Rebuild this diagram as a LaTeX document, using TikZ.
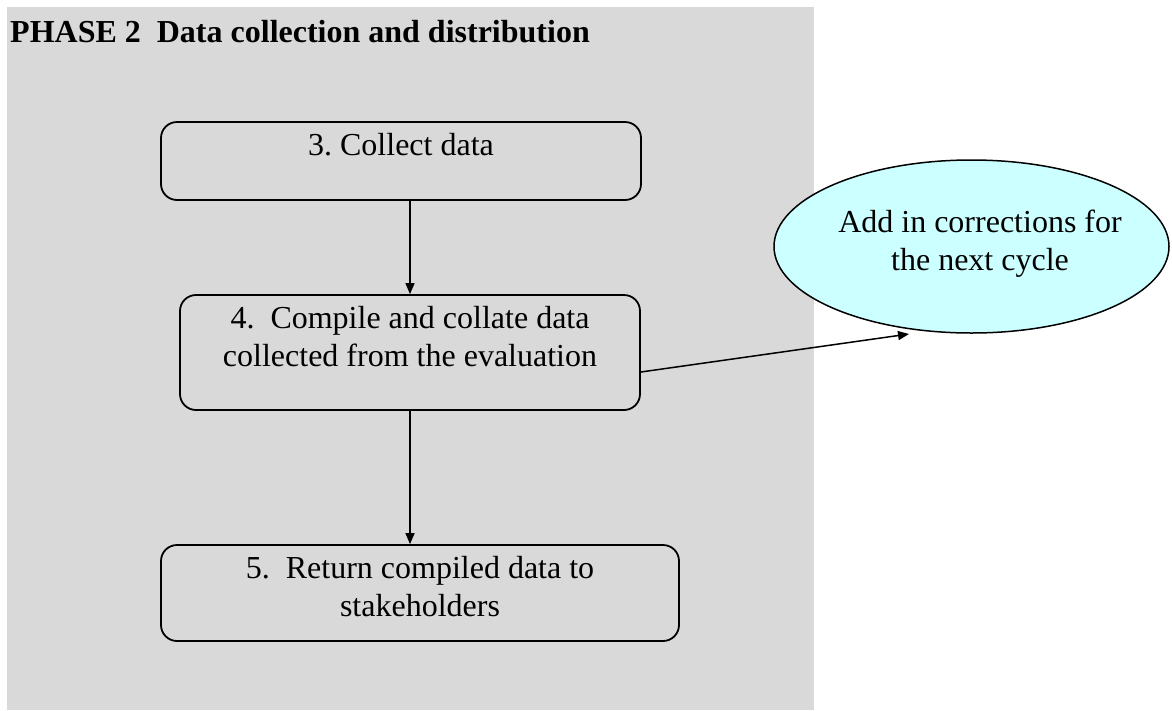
\documentclass[tikz,border=0pt]{standalone}
\usepackage{fontspec}
\setmainfont{Liberation Serif}
\usetikzlibrary{arrows.meta,shapes.geometric}
\definecolor{panelgray}{HTML}{D9D9D9}
\definecolor{notecyan}{HTML}{CCFFFF}
\frenchspacing
\begin{document}
\begin{tikzpicture}[x=1pt,y=-1pt,
  stepbox/.style={draw, line width=1.8pt, rounded corners=16pt, inner sep=0pt},
  steptext/.style={anchor=north, align=center, inner sep=0pt,
    font=\fontsize{32}{38}\selectfont},
  link/.style={line width=1.5pt, -{Triangle[length=11pt,width=9pt]}}
]
\useasboundingbox (0,0) rectangle (1172,710);

% shaded phase panel
\fill[panelgray] (7,7) rectangle (814,710);

% phase heading
\node[anchor=base west, inner sep=0pt, font=\bfseries\fontsize{32}{38}\selectfont]
  (title) at (10,42) {PHASE 2\ \ Data collection and distribution};

% process steps
\node[stepbox, minimum width=480pt, minimum height=78pt] (s3) at (401,161) {};
\node[steptext] (t3) at ([yshift=-12pt]s3.north) {3. Collect data};

\node[stepbox, minimum width=460pt, minimum height=115pt] (s4) at (410,352.5) {};
\node[steptext] (t4) at ([yshift=-12pt]s4.north)
  {4.\ \ Compile and collate data\\collected from the evaluation};

\node[stepbox, minimum width=518pt, minimum height=96pt] (s5) at (420,593) {};
\node[steptext] (t5) at ([yshift=-12pt]s5.north)
  {5.\ \ Return compiled data to\\stakeholders};

% feedback note
\node[draw, ellipse, fill=notecyan, line width=1.5pt, inner sep=0pt,
  minimum width=395pt, minimum height=173pt] (note) at (971.5,246.5) {};
\node[steptext] (tn) at (980,210) {Add in corrections for\\the next cycle};

% connectors
\draw[link] (s3.south -| s4.north) -- (s4.north);
\draw[link] (s4.south) -- (s4.south |- s5.north);
\coordinate (tip) at (909,334);
\draw[link] ([yshift=-19.5pt]s4.east) -- (tip);
\end{tikzpicture}
\end{document}
